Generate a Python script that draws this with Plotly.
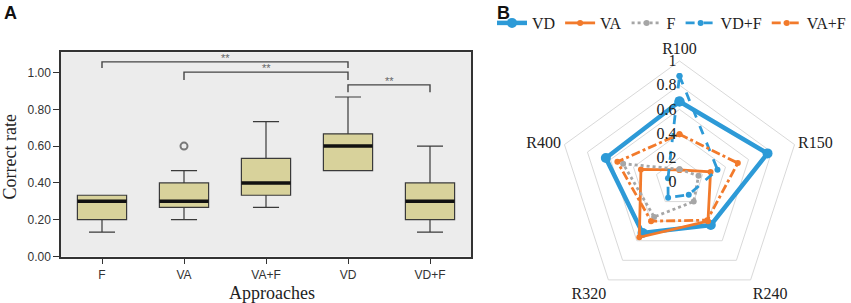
import plotly.graph_objects as go

# ---------------- Panel A data (box plot) ----------------
categories = ["F", "VA", "VA+F", "VD", "VD+F"]
q1_vals = [0.200, 0.267, 0.333, 0.467, 0.200]
median_vals = [0.300, 0.300, 0.400, 0.600, 0.300]
q3_vals = [0.333, 0.400, 0.533, 0.667, 0.400]
lower_vals = [0.133, 0.200, 0.267, 0.467, 0.133]
upper_vals = [0.333, 0.467, 0.733, 0.867, 0.600]
outlier_cats = ["VA"]
outlier_vals = [0.600]
y_ticks = [0.0, 0.2, 0.4, 0.6, 0.8, 1.0]
sig_pairs = [("F", "VD"), ("VA", "VD"), ("VD", "VD+F")]
sig_top = [1.058, 1.002, 0.933]
sig_leg = [1.024, 0.960, 0.893]
sig_labels = ["**", "**", "**"]

# ---------------- Panel B data (radar) ----------------
radar_axes = ["R100", "R150", "R240", "R320", "R400"]
radar_names = ["VD", "VA", "F", "VD+F", "VA+F"]
vd = [0.665, 0.765, 0.44, 0.52, 0.64]
va = [0.10, 0.27, 0.40, 0.565, 0.335]
f = [0.105, 0.165, 0.20, 0.357, 0.49]
vdf = [0.877, 0.33, 0.13, 0.16, 0.10]
vaf = [0.395, 0.507, 0.39, 0.40, 0.54]
radar_ticks = [0, 0.2, 0.4, 0.6, 0.8, 1.0]
radar_ticktext = ["0", "0.2", "0.4", "0.6", "0.8", "1"]

BLUE = "#2D9AD7"
ORANGE = "#F27A2B"
GREY = "#A6A6A6"
SERIF = "Liberation Serif"
SANS = "Liberation Sans"

fig = go.Figure()

# box bodies
fig.add_trace(go.Box(
    x=categories, q1=q1_vals, median=median_vals, q3=q3_vals,
    lowerfence=lower_vals, upperfence=upper_vals,
    width=0.6, whiskerwidth=0.53, boxpoints=False,
    fillcolor="#D8D29B", line=dict(color="#3a3a3a", width=1.2),
    showlegend=False, hoverinfo="skip", xaxis="x", yaxis="y",
))
# thick median lines
fig.add_trace(go.Box(
    x=categories, q1=median_vals, median=median_vals, q3=median_vals,
    lowerfence=median_vals, upperfence=median_vals,
    width=0.6, whiskerwidth=0.1, boxpoints=False,
    fillcolor="rgba(0,0,0,0)", line=dict(color="#111111", width=3.5),
    showlegend=False, hoverinfo="skip", xaxis="x", yaxis="y",
))
# outlier
fig.add_trace(go.Scatter(
    x=outlier_cats, y=outlier_vals, mode="markers",
    marker=dict(symbol="circle-open", size=7, color="#777777", line=dict(width=2)),
    showlegend=False, hoverinfo="skip", xaxis="x", yaxis="y",
))
# significance brackets
annotations = []
for (a, b), top, leg, lab in zip(sig_pairs, sig_top, sig_leg, sig_labels):
    fig.add_trace(go.Scatter(
        x=[a, a, b, b], y=[leg, top, top, leg], mode="lines",
        line=dict(color="#444444", width=1.4),
        showlegend=False, hoverinfo="skip", xaxis="x", yaxis="y",
    ))
    ia, ib = categories.index(a), categories.index(b)
    annotations.append(dict(
        x=(ia + ib) / 2, y=top, xref="x", yref="y", text=lab, showarrow=False,
        yanchor="bottom", xanchor="center", yshift=-4,
        font=dict(family=SANS, size=11, color="#666666"),
    ))

# radar traces
radar_data = [vd, va, f, vdf, vaf]
styles = [
    dict(color=BLUE, width=4.5, dash="solid", msize=10),
    dict(color=ORANGE, width=2.8, dash="solid", msize=6),
    dict(color=GREY, width=2.8, dash="dot", msize=6),
    dict(color=BLUE, width=2.8, dash="dash", msize=6),
    dict(color=ORANGE, width=2.8, dash="dashdot", msize=6),
]
for name, vals, st in zip(radar_names, radar_data, styles):
    fig.add_trace(go.Scatterpolar(
        r=vals + vals[:1], theta=radar_axes + radar_axes[:1], name=name,
        mode="lines+markers",
        line=dict(color=st["color"], width=st["width"], dash=st["dash"]),
        marker=dict(color=st["color"], size=st["msize"]),
        subplot="polar", hoverinfo="skip",
    ))

W, H = 851, 303
annotations += [
    dict(x=9.5 / W, y=(H - 157) / H, xref="paper", yref="paper", text="Correct rate",
         textangle=-90, showarrow=False, xanchor="center", yanchor="middle",
         font=dict(family=SERIF, size=18, color="#222222")),
    dict(x=272 / W, y=(H - 293) / H, xref="paper", yref="paper", text="Approaches",
         showarrow=False, xanchor="center", yanchor="middle",
         font=dict(family=SERIF, size=18, color="#222222")),
    dict(x=2 / W, y=1 - 1 / H, xref="paper", yref="paper", text="<b>A</b>", xanchor="left",
         yanchor="top", showarrow=False, font=dict(family=SANS, size=18, color="#111111")),
    dict(x=495 / W, y=1 - 1 / H, xref="paper", yref="paper", text="<b>B</b>", xanchor="left",
         yanchor="top", showarrow=False, font=dict(family=SANS, size=18, color="#111111")),
]

pr = 121
pcx = 679.5
fig.update_layout(
    width=W, height=H, margin=dict(l=0, r=0, t=0, b=0, autoexpand=False),
    paper_bgcolor="white", plot_bgcolor="#ECECEC",
    boxmode="overlay",
    xaxis=dict(domain=[61 / W, 471 / W], type="category", categoryorder="array",
               categoryarray=categories, range=[-0.5, 4.5],
               showline=True, mirror=True, linecolor="#333333", linewidth=1.5,
               ticks="outside", ticklen=6, tickcolor="#333333", showgrid=False, zeroline=False,
               ticklabelstandoff=0, automargin=False,
               tickfont=dict(family=SANS, size=12, color="#333333")),
    yaxis=dict(domain=[(H - 256.5) / H, (H - 52.3) / H], range=[0, 1.11],
               tickvals=y_ticks, tickformat=".2f", automargin=False,
               showline=True, mirror=True, linecolor="#333333", linewidth=1.5,
               ticks="outside", ticklen=6, tickcolor="#333333", showgrid=False, zeroline=False,
               tickfont=dict(family=SANS, size=12, color="#333333")),
    polar=dict(
        domain=dict(x=[(pcx - pr) / W, (pcx + pr) / W], y=[0, 2 * pr / H]),
        gridshape="linear", bgcolor="white",
        angularaxis=dict(direction="clockwise", rotation=90, showgrid=False,
                         linecolor="#D9D9D9", linewidth=1, ticks="",
                         tickfont=dict(family=SERIF, size=16, color="#222222")),
        radialaxis=dict(range=[0, 1], angle=90, tickangle=90, side="counterclockwise",
                        showline=False, ticks="", gridcolor="#D9D9D9", gridwidth=1,
                        tickvals=radar_ticks, ticktext=radar_ticktext,
                        tickfont=dict(family=SERIF, size=16, color="#222222")),
    ),
    legend=dict(orientation="h", x=1, y=1 - 23 / H, xanchor="right", yanchor="middle",
                font=dict(family=SERIF, size=16, color="#222222"),
                itemwidth=30, tracegroupgap=0, bgcolor="rgba(0,0,0,0)"),
    annotations=annotations,
)

fig.write_html("out.html", config={"displayModeBar": False},
               post_script="document.body.style.margin='0px';")
